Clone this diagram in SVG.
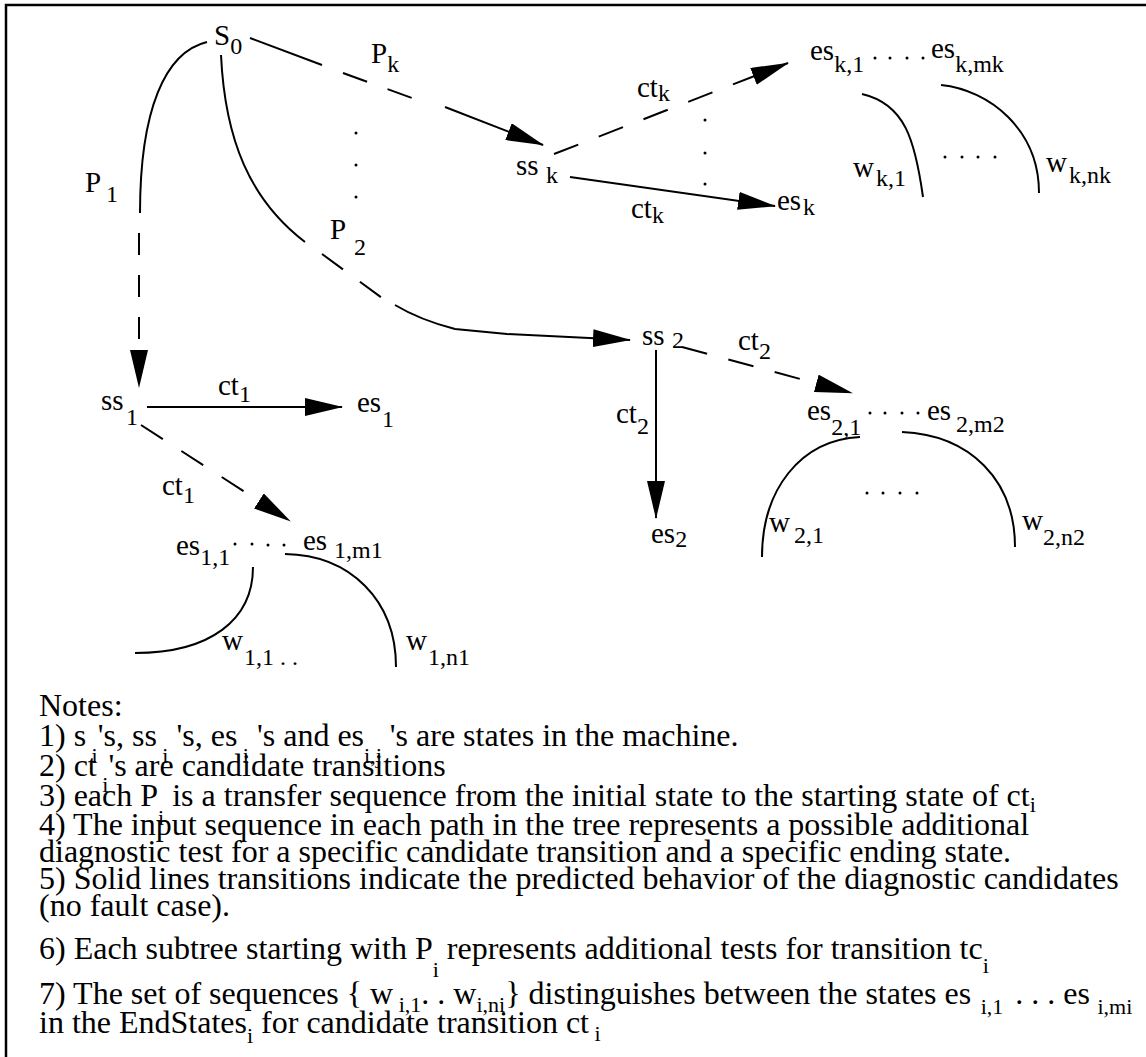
<svg xmlns="http://www.w3.org/2000/svg" width="1146" height="1057" viewBox="0 0 1146 1057">
<style>
text{font-family:"Liberation Serif","Times New Roman",serif;fill:#000}
.lbl{font-size:29px}
.sub{font-size:24px}
.note{font-size:32px}
.ns{font-size:22px}
.ln{stroke:#000;stroke-width:2;fill:none}
.dash{stroke-dasharray:26 22}
.dot{fill:#000}
</style>
<defs>
<marker id="ah" markerUnits="userSpaceOnUse" viewBox="0 0 38 18" refX="37" refY="9" markerWidth="38" markerHeight="18" orient="auto"><path d="M0,0 L38,9 L0,18 z" fill="#000"/></marker>
</defs>
<rect x="6" y="5" width="1160" height="1070" fill="#fff" stroke="#000" stroke-width="2.5"/>

<g id="connectors">
  <g id="c-p1">
    <path class="ln" d="M207,42 C165,52 140,110 140,213"/>
    <path class="ln" d="M139,233 L139,387" stroke-dasharray="22 20" marker-end="url(#ah)"/>
  </g>
  <g id="c-p2">
    <path class="ln" d="M221,55 C225,140 250,200 305,242"/>
    <path class="ln" d="M322,254 L382,298" stroke-dasharray="26 21"/>
    <path class="ln" d="M395,305 Q420,320 455,329 L507,334 L630,340" marker-end="url(#ah)"/>
  </g>
  <g id="c-pk">
    <path class="ln" d="M250,38 L322,65"/>
    <path class="ln" d="M343,73 L412,98" stroke-dasharray="25.6 21.8"/>
    <path class="ln" d="M445,107 L543,145" marker-end="url(#ah)"/>
  </g>
  <path id="c-ctk-dash" class="ln dash" d="M554,154 L788,63" marker-end="url(#ah)"/>
  <path id="c-ctk" class="ln" d="M570,177 L775,206" marker-end="url(#ah)"/>
  <path id="c-ct1" class="ln" d="M147,407 L342,407" marker-end="url(#ah)"/>
  <path id="c-ct1-dash" class="ln dash" d="M141,425 L290,521" marker-end="url(#ah)"/>
  <path id="c-ct2" class="ln" d="M656,350 L656,518" marker-end="url(#ah)"/>
  <path id="c-ct2-dash" class="ln dash" d="M682,347 L852,393" marker-end="url(#ah)"/>
  <path id="w-k1" class="ln" d="M862,94 C905,104 915,140 923,197"/>
  <path id="w-knk" class="ln" d="M941,85 C990,90 1039,130 1039,193"/>
  <path id="w-11" class="ln" d="M253,567 C253,620 210,653 135,653"/>
  <path id="w-1n1" class="ln" d="M285,554 C350,555 396,600 396,667"/>
  <path id="w-21" class="ln" d="M860,437 C800,440 762,490 762,557"/>
  <path id="w-2n2" class="ln" d="M902,432 C970,435 1015,480 1015,547"/>
  <g id="vdots" class="dot">
    <circle cx="356" cy="133" r="1.5"/><circle cx="356" cy="165" r="1.5"/><circle cx="356" cy="197" r="1.5"/>
    <circle cx="705" cy="120" r="1.5"/><circle cx="705" cy="153" r="1.5"/><circle cx="705" cy="184" r="1.5"/>
  </g>
</g>

<g id="labels-edges" class="lbl">
  <text id="lbl-p1" x="85" y="192">P<tspan class="sub" x="106" y="202">1</tspan></text>
  <text id="lbl-p2" x="330" y="239">P<tspan class="sub" x="354" y="255">2</tspan></text>
  <text id="lbl-pk" x="371" y="63">P<tspan class="sub" dy="9">k</tspan></text>
  <text id="lbl-ctk1" x="637" y="97">ct<tspan class="sub" dy="4">k</tspan></text>
  <text id="lbl-ctk2" x="631" y="218">ct<tspan class="sub" dy="5">k</tspan></text>
  <text id="lbl-ct1a" x="218" y="395">ct<tspan class="sub" dy="7">1</tspan></text>
  <text id="lbl-ct1b" x="162" y="495">ct<tspan class="sub" dy="8">1</tspan></text>
  <text id="lbl-ct2a" x="738" y="350">ct<tspan class="sub" x="759" y="359">2</tspan></text>
  <text id="lbl-ct2b" x="616" y="423">ct<tspan class="sub" dy="11">2</tspan></text>
  <text id="lbl-wk1" x="853" y="177">w<tspan class="sub" x="876" y="186">k,1</tspan></text>
  <text id="lbl-wknk" x="1046" y="172">w<tspan class="sub" x="1069" y="183">k,nk</tspan></text>
  <text id="lbl-w11" x="222" y="650">w<tspan class="sub" x="244" y="665">1,1 . .</tspan></text>
  <text id="lbl-w1n1" x="406" y="650">w<tspan class="sub" x="428" y="665">1,n1</tspan></text>
  <text id="lbl-w21" x="769" y="532">w<tspan class="sub" x="794" y="543">2,1</tspan></text>
  <text id="lbl-w2n2" x="1022" y="530">w<tspan class="sub" dy="15">2,n2</tspan></text>
  <g class="dot">
    <circle cx="945" cy="157" r="1.5"/><circle cx="962" cy="157" r="1.5"/><circle cx="978" cy="157" r="1.5"/><circle cx="995" cy="157" r="1.5"/>
    <circle cx="867" cy="493" r="1.5"/><circle cx="883" cy="493" r="1.5"/><circle cx="900" cy="493" r="1.5"/><circle cx="917" cy="493" r="1.5"/>
  </g>
</g>

<g id="s0" class="lbl"><text x="214" y="45">S<tspan class="sub" dy="9">0</tspan></text></g>
<g id="ssk" class="lbl"><text x="516" y="175">ss<tspan class="sub" x="546" y="183">k</tspan></text></g>
<g id="esk" class="lbl"><text x="777" y="210">es<tspan class="sub" x="803" y="215">k</tspan></text></g>
<g id="esk1" class="lbl"><text x="810" y="60">es<tspan class="sub" dy="12">k,1</tspan></text>
  <g class="dot"><circle cx="875" cy="58" r="1.5"/><circle cx="890" cy="58" r="1.5"/><circle cx="907" cy="58" r="1.5"/><circle cx="923" cy="58" r="1.5"/></g></g>
<g id="eskmk" class="lbl"><text x="931" y="58">es<tspan class="sub" dy="14">k,mk</tspan></text></g>
<g id="ss1" class="lbl"><text x="101" y="410">ss<tspan class="sub" x="126" y="425">1</tspan></text></g>
<g id="es1" class="lbl"><text x="357" y="412">es<tspan class="sub" x="382" y="427">1</tspan></text></g>
<g id="es11" class="lbl"><text x="176" y="555">es<tspan class="sub" dy="10">1,1</tspan></text>
  <g class="dot"><circle cx="235" cy="544" r="1.5"/><circle cx="252" cy="544" r="1.5"/><circle cx="268" cy="545" r="1.5"/><circle cx="284" cy="545" r="1.5"/></g></g>
<g id="es1m1" class="lbl"><text x="303" y="550">es<tspan class="sub" x="334" y="558">1,m1</tspan></text></g>
<g id="ss2" class="lbl"><text x="642" y="345">ss<tspan class="sub" x="672" y="348">2</tspan></text></g>
<g id="es2" class="lbl"><text x="651" y="543">es<tspan class="sub" dy="4">2</tspan></text></g>
<g id="es21" class="lbl"><text x="807" y="420">es<tspan class="sub" dy="15">2,1</tspan></text>
  <g class="dot"><circle cx="870" cy="413" r="1.5"/><circle cx="885" cy="413" r="1.5"/><circle cx="902" cy="413" r="1.5"/><circle cx="918" cy="413" r="1.5"/></g></g>
<g id="es2m2" class="lbl"><text x="927" y="420">es<tspan class="sub" x="956" y="432">2,m2</tspan></text></g>

<g id="notes" class="note">
  <text x="39" y="716">Notes:</text>
  <text x="39" y="746">1) s<tspan class="ns" dy="17"> i</tspan><tspan dy="-17">'s, ss</tspan><tspan class="ns" dy="17"> i</tspan><tspan dy="-17"> 's, es</tspan><tspan class="ns" dy="17"> i</tspan><tspan dy="-17"> 's and es</tspan><tspan class="ns" dy="17">i,j</tspan><tspan dy="-17"> 's are states in the machine.</tspan></text>
  <text x="39" y="776">2) ct<tspan class="ns" dy="16"> i</tspan><tspan dy="-16">'s are candidate transitions</tspan></text>
  <text x="39" y="806">3) each P<tspan class="ns" dy="19">i</tspan><tspan dy="-19"> is a transfer sequence from the initial state to the starting state of ct</tspan><tspan class="ns" dy="6">i</tspan></text>
  <text x="39" y="835">4) The input sequence in each path in the tree represents a possible additional</text>
  <text x="39" y="862">diagnostic test for a specific candidate transition and a specific ending state.</text>
  <text x="39" y="889">5) Solid lines transitions indicate the predicted behavior of the diagnostic candidates</text>
  <text x="39" y="916">(no fault case).</text>
  <text x="39" y="959">6) Each subtree starting with P<tspan class="ns" dy="18">i</tspan><tspan dy="-18">  represents additional tests for transition tc</tspan><tspan class="ns" dy="14">i</tspan></text>
  <text x="39" y="1004">7) The set of sequences { w<tspan class="ns" dy="8"> i,1</tspan><tspan dy="-8">. . w</tspan><tspan class="ns" dy="8">i,ni</tspan><tspan dy="-8">} distinguishes between the states es</tspan><tspan class="ns" dy="10" dx="4"> i,1</tspan><tspan dy="-10" dx="4"> . . . es</tspan><tspan class="ns" dy="10" dx="2"> i,mi</tspan></text>
  <text x="39" y="1033">in the EndStates<tspan class="ns" dy="10">i</tspan><tspan dy="-10"> for candidate transition ct</tspan><tspan class="ns" dy="8"> i</tspan></text>
</g>
</svg>
